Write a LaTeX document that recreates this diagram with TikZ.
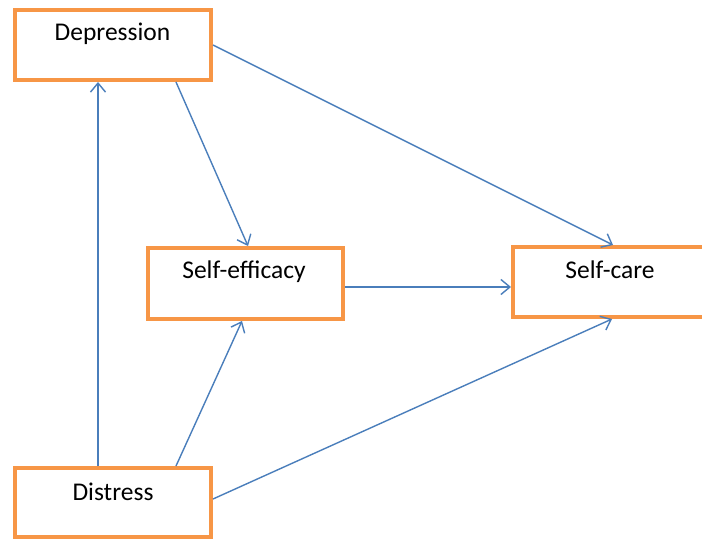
\documentclass[tikz,border=0pt]{standalone}
\usepackage{fontspec}
\setmainfont{Carlito}
\usetikzlibrary{arrows.meta}
\definecolor{boxorange}{HTML}{F79646}
\definecolor{arrowblue}{HTML}{4A7EBB}
\tikzset{
  box/.style={draw=boxorange, line width=4pt, fill=white, rectangle, inner sep=0pt, minimum width=196pt},
  link/.style={draw=arrowblue, line width=1.4pt, -{Straight Barb[length=9pt,width=15pt,line width=1.4pt]}},
  lab/.style={font=\fontsize{25.5}{30}\selectfont, text=black}
}
\begin{document}
\begin{tikzpicture}[x=1pt,y=-1pt]
\useasboundingbox (0,0) rectangle (702,540);
\clip (0,0) rectangle (702,540);
\fill[white] (0,0) rectangle (702,540);
\node[box, minimum height=70pt] (dep) at (113,45) {};
\node[box, minimum height=71pt, minimum width=195pt] (seff) at (245.5,283.5) {};
\node[box, minimum height=70pt] (scare) at (611,282) {};
\node[box, minimum height=69pt] (dis) at (113,502.5) {};
\node[lab] (deplab) at ([yshift=11pt, xshift=-0.5pt]dep.center) {Depression};
\node[lab] (sefflab) at ([yshift=11.5pt, xshift=-1.5pt]seff.center) {Self-efficacy};
\node[lab] (scarelab) at ([yshift=12pt, xshift=-1pt]scare.center) {Self-care};
\node[lab] (dislab) at ([yshift=10.5pt]dis.center) {Distress};
\draw[link] ([xshift=-15pt]dis.north) -- ([xshift=-15pt]dep.south);
\draw[link] ([xshift=63pt]dep.south) -- ([xshift=2.5pt]seff.north);
\draw[link] (dep.east) -- ([xshift=2pt]scare.north);
\draw[link] ([yshift=-3.5pt]seff.east) -- ([yshift=-5pt]scare.west);
\draw[link] ([xshift=63pt]dis.north) -- ([xshift=-3.5pt]seff.south);
\draw[link] ([yshift=3.5pt]dis.east) -- ([xshift=1pt]scare.south);
\end{tikzpicture}
\end{document}
